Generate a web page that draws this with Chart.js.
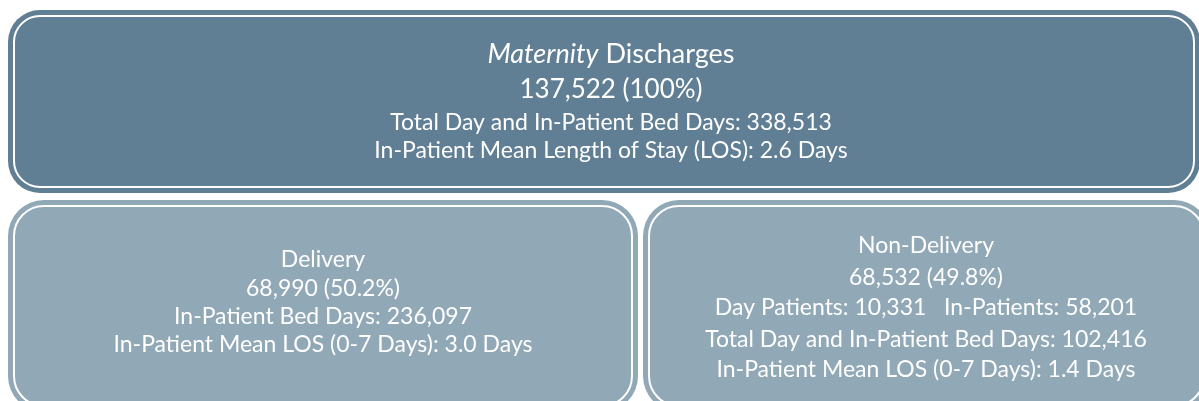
<!DOCTYPE html>
<html>
<head>
<meta charset="utf-8">
<script src="https://cdn.jsdelivr.net/npm/chart.js@4"></script>
<style>
  html, body { margin: 0; padding: 0; background: #ffffff; }
  #wrap { width: 1199px; height: 401px; }
</style>
</head>
<body>
<div id="wrap"><canvas id="boxChart" width="1199" height="401"></canvas></div>
<script>
// Values
const boxNames = ['Discharges', 'Delivery', 'Non-Delivery'];
const titleItalic = 'Maternity';
const discharges = [137522, 68990, 68532];
const sharePct = [100, 50.2, 49.8];
const bedDays = [338513, 236097, 102416];
const meanLos = [2.6, 3.0, 1.4];
const dayPatients = [10331];
const inPatients = [58201];

const fmt = n => n.toLocaleString('en-US');
const pct = p => (Number.isInteger(p) ? p : p.toFixed(1)) + '%';

// Text for each box
const boxLines = [
  [
    null, // title drawn separately (italic part)
    fmt(discharges[0]) + ' (' + pct(sharePct[0]) + ')',
    'Total Day and In-Patient Bed Days: ' + fmt(bedDays[0]),
    'In-Patient Mean Length of Stay (LOS): ' + meanLos[0].toFixed(1) + ' Days'
  ],
  [
    boxNames[1],
    fmt(discharges[1]) + ' (' + pct(sharePct[1]) + ')',
    'In-Patient Bed Days: ' + fmt(bedDays[1]),
    'In-Patient Mean LOS (0-7 Days): ' + meanLos[1].toFixed(1) + ' Days'
  ],
  [
    boxNames[2],
    fmt(discharges[2]) + ' (' + pct(sharePct[2]) + ')',
    'Day Patients: ' + fmt(dayPatients[0]) + '   In-Patients: ' + fmt(inPatients[0]),
    'Total Day and In-Patient Bed Days: ' + fmt(bedDays[2]),
    'In-Patient Mean LOS (0-7 Days): ' + meanLos[2].toFixed(1) + ' Days'
  ]
];

// Layout of the boxes, in axis units (same as pixels here)
const boxLayout = [
  { x0: 8, x1: 1200, y0: 10, y1: 193, r: 32, fill: '#607e94', cx: 611, baselines: [63, 98, 130, 158] },
  { x0: 8, x1: 638, y0: 200, y1: 412, r: 36, fill: '#91a8b7', cx: 323, baselines: [267, 296, 324, 352] },
  { x0: 643, x1: 1210, y0: 200, y1: 412, r: 36, fill: '#91a8b7', cx: 926, baselines: [253, 285, 315, 347, 377] }
];

const FONT = 'Lato, "Open Sans", sans-serif';
const TITLE_SIZE = 27, BIG_SIZE = 26, LINE_SIZE = 23;

function roundRectPath(ctx, x, y, w, h, r) {
  ctx.beginPath();
  ctx.moveTo(x + r, y);
  ctx.lineTo(x + w - r, y);
  ctx.arcTo(x + w, y, x + w, y + r, r);
  ctx.lineTo(x + w, y + h - r);
  ctx.arcTo(x + w, y + h, x + w - r, y + h, r);
  ctx.lineTo(x + r, y + h);
  ctx.arcTo(x, y + h, x, y + h - r, r);
  ctx.lineTo(x, y + r);
  ctx.arcTo(x, y, x + r, y, r);
  ctx.closePath();
}

const boxPlugin = {
  id: 'boxPlugin',
  afterDraw(chart) {
    const ctx = chart.ctx;
    const xs = chart.scales.x, ys = chart.scales.y;
    ctx.save();
    boxLayout.forEach((b, i) => {
      const left = xs.getPixelForValue(b.x0), right = xs.getPixelForValue(b.x1);
      const top = ys.getPixelForValue(b.y0), bottom = ys.getPixelForValue(b.y1);
      roundRectPath(ctx, left, top, right - left, bottom - top, b.r);
      ctx.fillStyle = b.fill;
      ctx.fill();
      // inner white rule
      const ins = 6;
      roundRectPath(ctx, left + ins, top + ins, right - left - 2 * ins, bottom - top - 2 * ins, b.r - ins);
      ctx.strokeStyle = '#ffffff';
      ctx.lineWidth = 2;
      ctx.stroke();

      ctx.fillStyle = '#ffffff';
      ctx.textBaseline = 'alphabetic';
      const cx = xs.getPixelForValue(b.cx);
      boxLines[i].forEach((line, j) => {
        const y = ys.getPixelForValue(b.baselines[j]);
        if (line === null) {
          // title with italic first word
          ctx.font = 'italic ' + TITLE_SIZE + 'px ' + FONT;
          const w1 = ctx.measureText(titleItalic).width;
          ctx.font = TITLE_SIZE + 'px ' + FONT;
          const rest = ' ' + boxNames[0];
          const w2 = ctx.measureText(rest).width;
          const sx = cx - (w1 + w2) / 2;
          ctx.textAlign = 'left';
          ctx.font = 'italic ' + TITLE_SIZE + 'px ' + FONT;
          ctx.fillText(titleItalic, sx, y);
          ctx.font = TITLE_SIZE + 'px ' + FONT;
          ctx.fillText(rest, sx + w1, y);
          return;
        }
        const size = (i === 0 && j === 1) ? BIG_SIZE : LINE_SIZE;
        ctx.font = size + 'px ' + FONT;
        ctx.textAlign = 'center';
        ctx.fillText(line, cx, y);
      });
    });
    ctx.restore();
  }
};

new Chart(document.getElementById('boxChart').getContext('2d'), {
  type: 'scatter',
  data: { datasets: [{ data: [], pointRadius: 0 }] },
  options: {
    responsive: false,
    animation: false,
    layout: { padding: 0 },
    plugins: { legend: { display: false }, tooltip: { enabled: false } },
    scales: {
      x: { type: 'linear', min: 0, max: 1199, display: false },
      y: { type: 'linear', min: 0, max: 401, reverse: true, display: false }
    }
  },
  plugins: [boxPlugin]
});
</script>
</body>
</html>
